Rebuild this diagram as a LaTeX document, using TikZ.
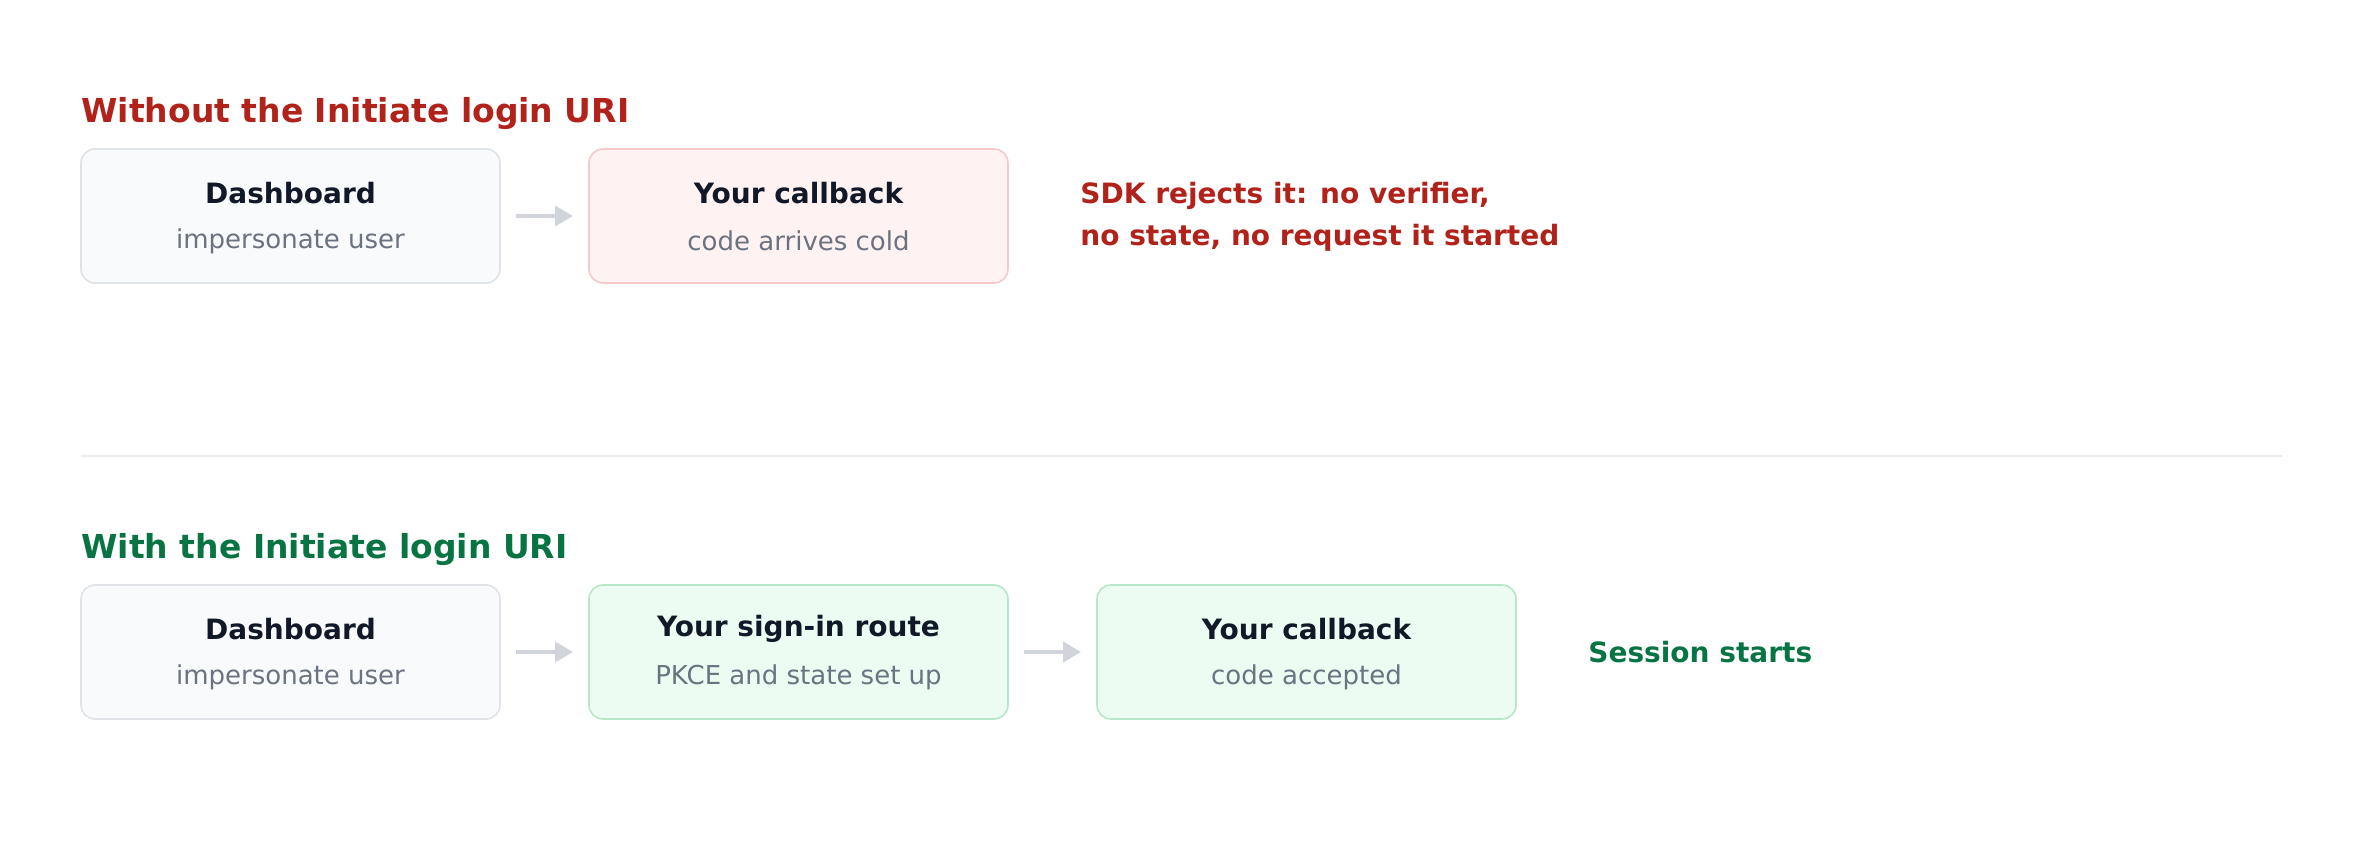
\documentclass[tikz,border=0pt]{standalone}
\usepackage{fontspec}
\setmainfont{DejaVu Sans}
\usetikzlibrary{arrows.meta}
\definecolor{redt}{HTML}{B0221A}
\definecolor{greent}{HTML}{087443}
\definecolor{dark}{HTML}{111827}
\definecolor{subt}{HTML}{6B7280}
\definecolor{grayfill}{HTML}{F8FAFC}
\definecolor{grayline}{HTML}{DFE3E8}
\definecolor{redfill}{HTML}{FEF2F2}
\definecolor{redline}{HTML}{F3CACA}
\definecolor{greenfill}{HTML}{EDFCF2}
\definecolor{greenline}{HTML}{B8E6C8}
\definecolor{arr}{HTML}{D1D5DB}
\begin{document}
\begin{tikzpicture}[x=0.5pt,y=-0.5pt,
 box/.style={draw,line width=0.8pt,rounded corners=7pt,minimum width=209.5pt,minimum height=67pt},
 gbox/.style={box,fill=grayfill,draw=grayline},
 rbox/.style={box,fill=redfill,draw=redline},
 nbox/.style={box,fill=greenfill,draw=greenline},
 head/.style={anchor=base west,inner sep=0pt,font=\bfseries\fontsize{16.5}{19}\selectfont},
 bt/.style={font=\bfseries\fontsize{14}{16}\selectfont,text=dark},
 st/.style={font=\fontsize{13}{15}\selectfont,text=subt},
 ar/.style={draw=arr,line width=2pt,-{Triangle[length=9pt,width=10pt]}}]
\useasboundingbox (0,0) rectangle (2360,860);
\node[head,text=redt] (h1) at (81,123) {Without the Initiate login URI};
\node[gbox] (a1) at (290.5,216) {};
\node[rbox] (a2) at (798.5,216) {};
\node[bt] at (290.5,193) {Dashboard};
\node[st] at (290.5,241) {impersonate user};
\node[bt] at (798.5,193) {Your callback};
\node[st] at (798.5,241) {code arrives cold};
\coordinate (p1) at (516,216); \coordinate (p2) at (573,216);
\draw[ar] (p1) -- (p2);
\node[anchor=west,inner sep=0pt,align=left,text=redt,font=\bfseries\fontsize{14}{21}\selectfont] (r) at (1080,217) {SDK rejects it: no verifier,\\no state, no request it started};
\coordinate (d1) at (81,456); \coordinate (d2) at (2282,456);
\draw[draw=grayline!70,line width=0.6pt] (d1) -- (d2);
\node[head,text=greent] (h2) at (81,559) {With the Initiate login URI};
\node[gbox] (b1) at (290.5,652) {};
\node[nbox] (b2) at (798.5,652) {};
\node[nbox] (b3) at (1306.5,652) {};
\node[bt] at (290.5,629) {Dashboard};
\node[st] at (290.5,677) {impersonate user};
\node[bt] at (798.5,629) {Your sign-in route};
\node[st] at (798.5,677) {PKCE and state set up};
\node[bt] at (1306.5,629) {Your callback};
\node[st] at (1306.5,677) {code accepted};
\coordinate (q1) at (516,652); \coordinate (q2) at (573,652);
\coordinate (q3) at (1024,652); \coordinate (q4) at (1081,652);
\draw[ar] (q1) -- (q2);
\draw[ar] (q3) -- (q4);
\node[anchor=west,inner sep=0pt,text=greent,font=\bfseries\fontsize{14}{16}\selectfont] (s) at (1588,652) {Session starts};
\end{tikzpicture}
\end{document}
